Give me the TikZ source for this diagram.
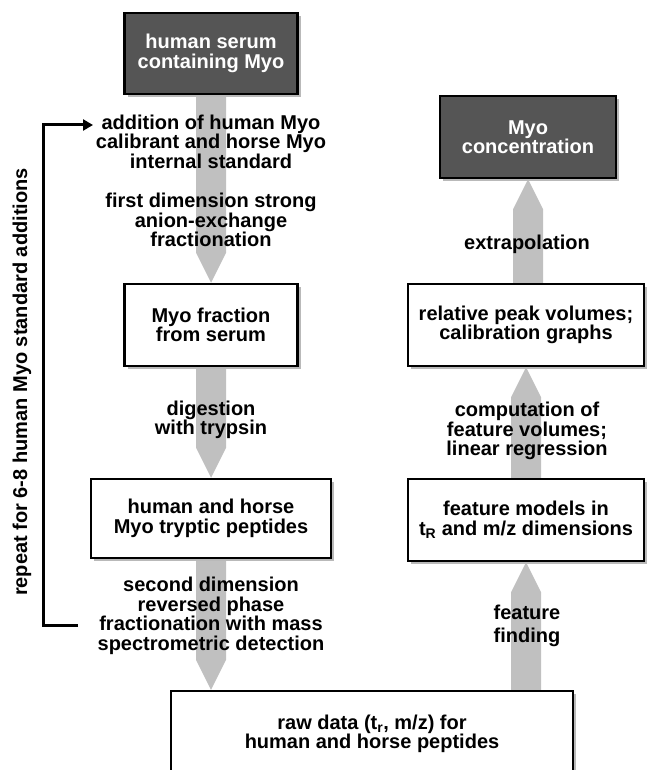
\documentclass[tikz,border=0pt]{standalone}
\usepackage{fontspec}
\setmainfont{Liberation Sans}
\usetikzlibrary{arrows.meta,shadows,backgrounds,calc}
\definecolor{darkfill}{RGB}{85,85,85}
\definecolor{flowgray}{RGB}{192,192,192}
\definecolor{shadowgray}{RGB}{185,185,185}
\newcommand\flowarrow[2]{%
  \path ($(#2)!30pt!(#1)$) coordinate (fh);
  \fill[flowgray] ($(#1)!15pt!90:(#2)$) -- ($(fh)!15pt!90:(#2)$) -- (#2) -- ($(fh)!15pt!-90:(#2)$) -- ($(#1)!15pt!-90:(#2)$) -- cycle;}
\begin{document}
\begin{tikzpicture}[x=1pt,y=-1pt,
  font=\fontsize{20}{19.5}\selectfont\bfseries,
  box/.style={draw=black, line width=2.5pt, fill=white, align=center, inner sep=0pt,
    drop shadow={shadow xshift=3pt,shadow yshift=-3pt,fill=shadowgray,opacity=1}},
  darkbox/.style={box, fill=darkfill, text=white},
  lbl/.style={align=center, inner sep=0pt},
  fb/.style={line width=3pt, line join=miter, -{Triangle[length=10pt,width=11pt]}}
]
\useasboundingbox (0,0) rectangle (646,770);
% boxes
\node[darkbox, minimum width=173pt, minimum height=81pt] (serum) at (211,53.5) {human serum\\containing Myo};
\node[box, minimum width=173pt, minimum height=82pt] (fraction) at (211,325) {Myo fraction\\from serum};
\node[box, minimum width=240pt, minimum height=79pt] (tryptic) at (211,518.5) {human and horse\\Myo tryptic peptides};
\node[box, minimum width=402pt, minimum height=86pt] (raw) at (372,734) {raw data (t\textsubscript{r}, m/z) for\\human and horse peptides};
\node[darkbox, minimum width=176pt, minimum height=82pt] (conc) at (528,137) {Myo\\concentration};
\node[box, minimum width=236pt, minimum height=82pt] (relpeak) at (526,325) {relative peak volumes;\\calibration graphs};
\node[box, minimum width=236pt, minimum height=82pt] (featmod) at (526,520) {feature models in\\t\textsubscript{R} and m/z dimensions};
% flow arrows
\begin{scope}[on background layer]
\flowarrow{serum.south}{fraction.north}
\flowarrow{fraction.south}{tryptic.north}
\flowarrow{tryptic.south}{raw.north -| tryptic.south}
\flowarrow{raw.north -| featmod.south}{featmod.south}
\flowarrow{featmod.north}{relpeak.south}
\flowarrow{relpeak.north -| conc.south}{conc.south}
\end{scope}
% labels
\node[lbl] (l1) at (211,141.5) {addition of human Myo\\calibrant and horse Myo\\internal standard};
\node[lbl] (l2) at (211,220) {first dimension strong\\anion-exchange\\fractionation};
\node[lbl] (l3) at (211,420) {digestion\\with trypsin};
\node[lbl] (l4) at (211,616) {second dimension\\reversed phase\\fractionation with mass\\spectrometric detection};
\node[lbl] (l5) at (527,244) {extrapolation};
\node[lbl] (l6) at (527,431) {computation of\\feature volumes;\\linear regression};
\node[lbl, font=\fontsize{20}{23}\selectfont\bfseries] (l7) at (527,626) {feature\\finding};
% feedback loop
\node[lbl, rotate=90] (rep) at (22,382) {repeat for 6-8 human Myo standard additions};
\coordinate (fbstart) at (78,625);
\coordinate (fbend) at (93,125);
\draw[fb] (fbstart) -- ++(-35,0) |- (fbend);
\end{tikzpicture}
\end{document}
